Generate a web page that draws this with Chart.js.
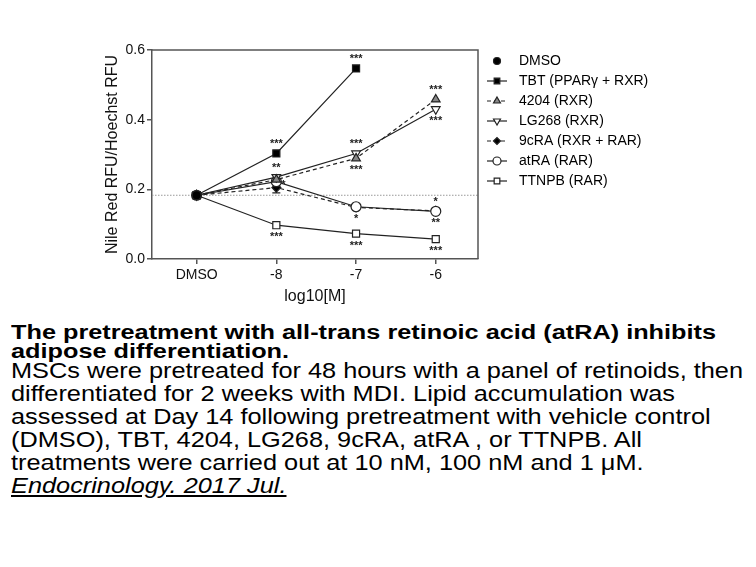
<!DOCTYPE html>
<html>
<head>
<meta charset="utf-8">
<script src="https://cdn.jsdelivr.net/npm/chart.js@4.4.0/dist/chart.umd.min.js"></script>
<style>
html,body{margin:0;padding:0;background:#fff;width:756px;height:567px;overflow:hidden;font-family:"Liberation Sans",Arial,sans-serif;color:#000}
#wrap{position:relative;width:756px;height:567px}
#c{position:absolute;left:0;top:0}
.ln{position:absolute;left:11px;white-space:nowrap;transform-origin:0 0;line-height:24px;height:24px}
.t{font-weight:bold;font-size:20px}
.b{font-size:22px}
.cite{font-style:italic;text-decoration:underline}
</style>
</head>
<body>
<div id="wrap">
  <canvas id="c" width="756" height="310"></canvas>
  <div class="ln t" id="t1" style="top:320px">The pretreatment with all-trans retinoic acid (atRA) inhibits</div>
  <div class="ln t" id="t2" style="top:339px">adipose differentiation.</div>
  <div class="ln b" id="b1" style="top:359px">MSCs were pretreated for 48 hours with a panel of retinoids, then</div>
  <div class="ln b" style="top:382px">differentiated for 2 weeks with MDI. Lipid accumulation was</div>
  <div class="ln b" style="top:405px">assessed at Day 14 following pretreatment with vehicle control</div>
  <div class="ln b" style="top:428px">(DMSO), TBT, 4204, LG268, 9cRA, atRA , or TTNPB. All</div>
  <div class="ln b" style="top:451px">treatments were carried out at 10 nM, 100 nM and 1 μM.</div>
  <div class="ln b cite" style="top:474px">Endocrinology. 2017 Jul.</div>
</div>
<script>
// Data (x: -9 stands for the DMSO control position)
const xVals   = [-9, -8, -7, -6];
const xLabels = ['DMSO', '-8', '-7', '-6'];
const dmso    = [0.183];
const tbt     = [0.183, 0.303, 0.547];
const r4204   = [0.183, 0.228, 0.289, 0.458];
const lg268   = [0.183, 0.235, 0.303, 0.430];
const cra9    = [0.183, 0.205, 0.148, 0.138];
const atra    = [0.183, 0.222, 0.150, 0.137];
const ttnpb   = [0.183, 0.097, 0.073, 0.057];
const cra9Err = [0, 0.015, 0, 0];
const yTicks  = [0.0, 0.2, 0.4, 0.6];

// significance marks: [dataset index, point index, text, where]
const stars = [
  [1,1,'***','up'],[1,2,'***','up'],
  [3,1,'**','up'],[5,1,'*','right'],[6,1,'***','down'],
  [3,2,'***','up'],[2,2,'***','down'],[5,2,'*','down'],[6,2,'***','down'],
  [2,3,'***','up'],[3,3,'***','down'],[5,3,'*','up'],[5,3,'**','down'],[6,3,'***','down']
];

const ink = '#222';
const font = '"Liberation Sans", Arial';
const pts = (arr)=> arr.map((v,i)=>({x:xVals[i], y:v}));

function ds(label, data, style, bg, dash, radius, rot){
  return { label, data: pts(data), borderColor: ink, backgroundColor: bg, pointBorderColor: ink,
    pointBackgroundColor: bg, pointStyle: style, pointRadius: radius, pointRotation: rot||0,
    pointBorderWidth: 1.2, borderWidth: 1.2, borderDash: dash, showLine: true, tension: 0, order: 0 };
}

const datasets = [
  Object.assign(ds('DMSO', dmso, 'circle', '#000', [], 4.5), {showLine:false, order:-1}),
  ds('TBT (PPARγ + RXR)', tbt, 'rect', '#000', [], 5),
  ds('4204 (RXR)', r4204, 'triangle', '#888', [4,3], 5),
  ds('LG268 (RXR)', lg268, 'triangle', '#fff', [], 5, 180),
  Object.assign(ds('9cRA (RXR + RAR)', cra9, 'rectRot', '#000', [4,3], 4.5), {order:1}),
  ds('atRA (RAR)', atra, 'circle', '#fff', [], 5),
  ds('TTNPB (RAR)', ttnpb, 'rect', '#fff', [], 5)
];

// extra drawing: frame, DMSO reference line, error bars, stars, legend
const extras = {
  id: 'extras',
  beforeDatasetsDraw(chart){
    const {ctx, chartArea:a, scales:{x, y}} = chart;
    ctx.save();
    const yr = y.getPixelForValue(dmso[0]);
    ctx.strokeStyle = '#999'; ctx.lineWidth = 1; ctx.setLineDash([1.5,1.5]);
    ctx.beginPath(); ctx.moveTo(a.left, yr); ctx.lineTo(a.right, yr); ctx.stroke();
    ctx.setLineDash([]);
    ctx.strokeStyle = ink; ctx.lineWidth = 1.2;
    cra9Err.forEach((e,i)=>{
      if(!e) return;
      const px = x.getPixelForValue(xVals[i]);
      const y1 = y.getPixelForValue(cra9[i]-e), y2 = y.getPixelForValue(cra9[i]+e);
      ctx.beginPath(); ctx.moveTo(px,y1); ctx.lineTo(px,y2);
      ctx.moveTo(px-4,y1); ctx.lineTo(px+4,y1); ctx.moveTo(px-4,y2); ctx.lineTo(px+4,y2); ctx.stroke();
    });
    ctx.restore();
  },
  afterDraw(chart){
    const {ctx, chartArea:a, scales:{x, y}} = chart;
    ctx.save();
    ctx.strokeStyle = '#555'; ctx.lineWidth = 1.5;
    ctx.beginPath(); ctx.moveTo(a.left, a.top); ctx.lineTo(a.right, a.top); ctx.lineTo(a.right, a.bottom); ctx.stroke();

    ctx.fillStyle = ink; ctx.font = 'bold 11px ' + font; ctx.textAlign = 'center';
    stars.forEach(([d,i,t,w])=>{
      const px = x.getPixelForValue(xVals[i]);
      const py = y.getPixelForValue(chart.data.datasets[d].data[i].y);
      ctx.textBaseline = 'alphabetic';
      if(w==='up'){ ctx.fillText(t, px, py-6); }
      else if(w==='down'){ ctx.fillText(t, px, py+15); }
      else { ctx.textAlign='left'; ctx.fillText(t, px+5, py+6); ctx.textAlign='center'; }
    });

    // legend
    const lx = 497, ly0 = 61, step = 20;
    ctx.font = '14px ' + font;
    ctx.textAlign = 'left'; ctx.textBaseline = 'middle';
    chart.data.datasets.forEach((d,k)=>{
      const ly = ly0 + k*step;
      if(d.showLine !== false){
        ctx.strokeStyle = ink; ctx.lineWidth = 1.2; ctx.setLineDash(d.borderDash||[]);
        ctx.beginPath(); ctx.moveTo(lx-10, ly); ctx.lineTo(lx+10, ly); ctx.stroke();
        ctx.setLineDash([]);
      }
      ctx.fillStyle = d.pointBackgroundColor; ctx.strokeStyle = ink; ctx.lineWidth = 1.2;
      Chart.helpers.drawPoint(ctx, {pointStyle:d.pointStyle, rotation:d.pointRotation, radius:d.pointRadius-1, borderWidth:1.2}, lx, ly);
      ctx.fillStyle = '#000';
      ctx.fillText(d.label, lx+22, ly);
    });
    ctx.restore();
  }
};

new Chart(document.getElementById('c'), {
  type: 'scatter',
  data: { datasets },
  plugins: [extras],
  options: {
    responsive: false, animation: false,
    layout: { padding: { left: 103, right: 278, top: 50, bottom: 0 } },
    plugins: { legend: { display: false }, tooltip: { enabled: false } },
    scales: {
      x: {
        type: 'linear', min: -9.56, max: -5.47,
        afterBuildTicks: (s)=>{ s.ticks = xVals.map(v=>({value:v})); },
        afterFit: (s)=>{ s.height = 51; },
        ticks: { callback: (v)=> xLabels[xVals.indexOf(v)], color: '#111', font: { size: 14, family: font }, padding: 3, maxRotation: 0, autoSkip: false },
        grid: { drawOnChartArea: false, drawTicks: true, tickLength: 5, color: '#555', lineWidth: 1.5 },
        border: { color: '#555', width: 1.5 },
        title: { display: true, text: 'log10[M]', color: '#111', font: { size: 16, family: font }, padding: { top: 0 } }
      },
      y: {
        min: 0, max: 0.6,
        afterBuildTicks: (s)=>{ s.ticks = yTicks.map(v=>({value:v})); },
        afterFit: (s)=>{ s.width = 49; },
        ticks: { callback: (v)=> v.toFixed(1), color: '#111', font: { size: 14, family: font }, padding: 2 },
        grid: { drawOnChartArea: false, drawTicks: true, tickLength: 5, color: '#555', lineWidth: 1.5 },
        border: { color: '#555', width: 1.5 },
        title: { display: true, text: 'Nile Red RFU/Hoechst RFU', color: '#111', font: { size: 16, family: font }, padding: { top: 0, bottom: 0 } }
      }
    }
  }
});

// fit caption lines to the reference widths
function fit(cls, firstId, target){
  const w = document.getElementById(firstId).getBoundingClientRect().width;
  const k = target / w;
  document.querySelectorAll('.ln.'+cls).forEach(el=> el.style.transform = 'scaleX('+k+')');
}
fit('t', 't1', 705);
fit('b', 'b1', 732);
</script>
</body>
</html>
